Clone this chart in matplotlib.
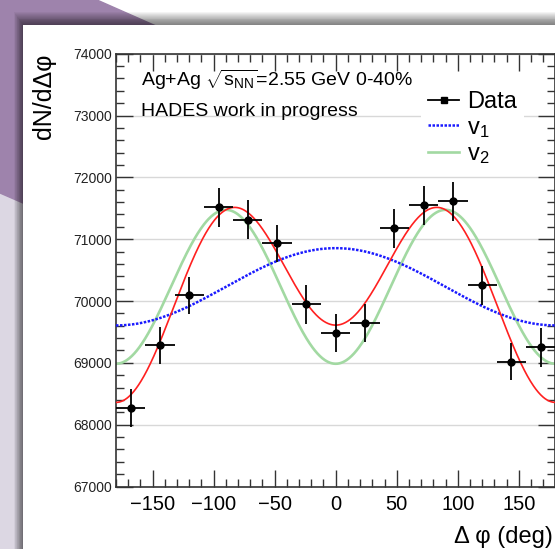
import numpy as np
import matplotlib
matplotlib.use("Agg")
import matplotlib.pyplot as plt
from matplotlib.lines import Line2D
from matplotlib.patches import Polygon, Rectangle
from matplotlib.ticker import MultipleLocator

plt.rcParams['font.family'] = ['Liberation Sans', 'DejaVu Sans']
plt.rcParams['mathtext.fontset'] = 'custom'
plt.rcParams['mathtext.rm'] = 'Liberation Sans'
plt.rcParams['mathtext.it'] = 'Liberation Sans'

# data
dphi = [-168, -144, -120, -96, -72, -48, -24, 0, 24, 48, 72, 96, 120, 144, 168]
counts = [68272, 69282, 70091, 71515, 71314, 70932, 69945, 69481,
          69642, 71175, 71547, 71612, 70252, 69016, 69249]
counts_err = [310, 305, 305, 310, 315, 305, 310, 310,
              310, 310, 310, 315, 310, 300, 310]
bin_half = [12] * 15

# fit: A + B cos(dphi) + C cos(2 dphi)
fit_A = 70230
fit_B = 625
fit_C = -1245

phi = np.linspace(-180, 180, 721)
rad = np.radians(phi)
fit_tot = fit_A + fit_B * np.cos(rad) + fit_C * np.cos(2 * rad)
fit_v1 = fit_A + fit_B * np.cos(rad)
fit_v2 = fit_A + fit_C * np.cos(2 * rad)

W, H = 555, 549
fig = plt.figure(figsize=(W / 100, H / 100), dpi=100)

# slide background (pixel coords)
bg = fig.add_axes([0, 0, 1, 1])
bg.set_xlim(0, W)
bg.set_ylim(H, 0)
bg.axis('off')
bg.add_patch(Rectangle((0, 0), W, H, color='white', zorder=0))
bg.add_patch(Rectangle((0, 0), 23, H, color='#dcd7e3', zorder=0))
bg.add_patch(Polygon([(0, 0), (97, 0), (165, 30), (23, 203), (0, 193)],
                     closed=True, color='#9e83ac', zorder=1))
# panel shadow
n = 14
for i in range(n):
    d = 1 - i / n
    bg.add_patch(Rectangle((23 - 9 * d, 25 - 13 * d), W, H,
                           color='black', alpha=0.045, lw=0, zorder=2))
bg.add_patch(Rectangle((23, 25), W, H, color='white', lw=0, zorder=3))

ax = fig.add_axes([116 / W, 1 - 486.5 / H, (555.4 - 116) / W, (486.5 - 53.7) / H])
ax.set_facecolor('none')

ax.plot(phi, fit_v1, color='#1a1aff', lw=1.8, ls=(0, (1, 0.6)), zorder=3)
ax.plot(phi, fit_v2, color='#a2d9a2', lw=1.9, zorder=2)
ax.plot(phi, fit_tot, color='#ff2020', lw=1.2, zorder=4)
ax.errorbar(dphi, counts, yerr=counts_err, xerr=bin_half, fmt='o', color='black',
            ms=5, elinewidth=1.3, capsize=0, zorder=5)

ax.set_xlim(-180, 180)
ax.set_ylim(67000, 74000)
ax.xaxis.set_major_locator(MultipleLocator(50))
ax.xaxis.set_minor_locator(MultipleLocator(10))
ax.yaxis.set_major_locator(MultipleLocator(1000))
ax.yaxis.set_minor_locator(MultipleLocator(200))
ax.tick_params(which='both', direction='in', top=True, right=True, color='#333333')
ax.tick_params(which='major', length=12, width=1)
ax.tick_params(which='minor', length=6, width=1)
ax.tick_params(axis='x', labelsize=14.5, pad=6, labelcolor='black')
ax.tick_params(axis='y', labelsize=10, pad=3, labelcolor='#222222')
ax.yaxis.grid(True, color='#d8d8d8', lw=1)
ax.set_axisbelow(True)
for s in ax.spines.values():
    s.set_color('#333333')
    s.set_linewidth(1.2)

ax.set_ylabel('dN/d\u0394\u03c6', fontsize=18, loc='top', labelpad=12)
fig.text(553 / W, 1 - 543 / H, '\u0394 \u03c6 (deg)', fontsize=17,
         ha='right', va='baseline')

ax.text(0.056, 0.925, r'Ag+Ag $\sqrt{\mathregular{s}_\mathregular{NN}}$=2.55 GeV 0-40%',
        transform=ax.transAxes, fontsize=14, va='baseline')
ax.text(0.056, 0.856, 'HADES work in progress', transform=ax.transAxes,
        fontsize=14, va='baseline')

handles = [Line2D([], [], color='black', marker='s', ms=4, lw=1.3),
           Line2D([], [], color='#1a1aff', lw=1.8, ls=(0, (1, 0.6))),
           Line2D([], [], color='#a2d9a2', lw=1.9)]
leg = ax.legend(handles, ['Data', r'v$_\mathregular{1}$', r'v$_\mathregular{2}$'],
                loc='upper left', bbox_to_anchor=(0.695, 0.93), fontsize=17,
                frameon=True, fancybox=False, framealpha=1, facecolor='white',
                edgecolor='none', handlelength=1.3, handletextpad=0.35,
                labelspacing=0.15, borderpad=0.3, borderaxespad=0)
leg.set_zorder(6)

fig.savefig('out.png', dpi=100)
